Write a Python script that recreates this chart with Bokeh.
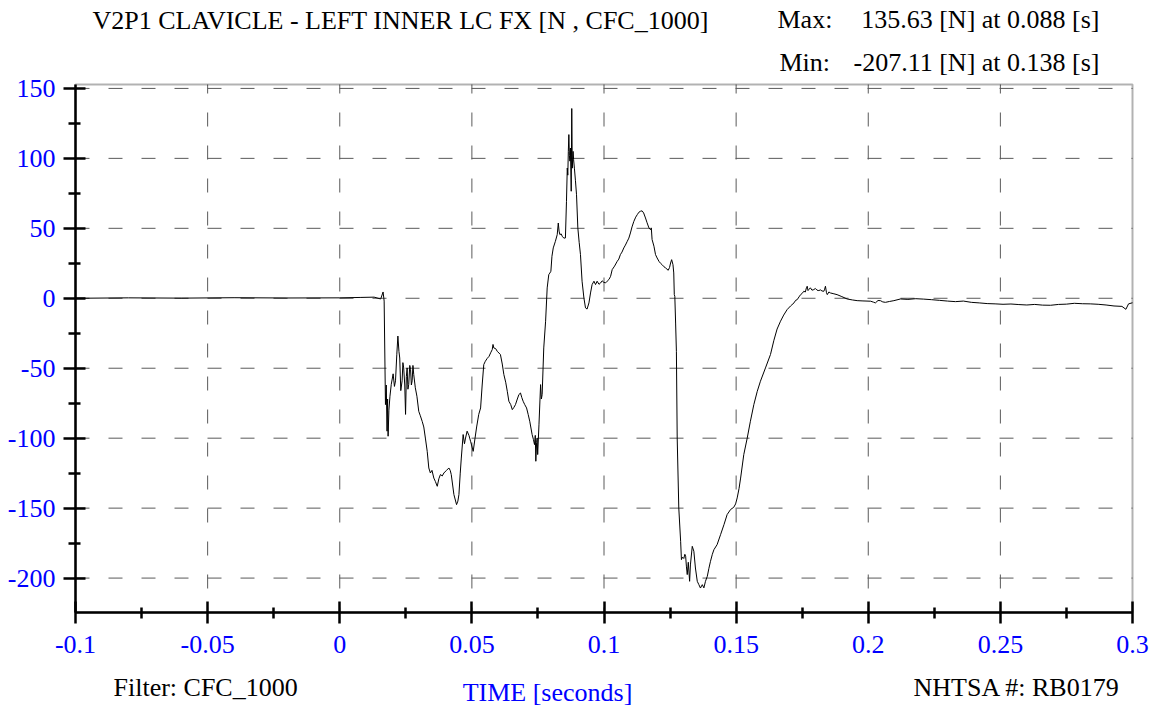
from bokeh.plotting import figure
from bokeh.models import ColumnDataSource, FixedTicker, Label, LinearAxis, BoxAnnotation
from bokeh.embed import file_html
from bokeh.resources import INLINE

# ---------------- data ----------------
time_s = [
    -0.100, -0.080, -0.060, -0.040, -0.020, 0.000, 0.008, 0.013, 0.0155, 0.0164,
    0.0168, 0.0173, 0.0176, 0.0179, 0.0181, 0.0183, 0.0186, 0.0190, 0.0195, 0.0202,
    0.0207, 0.0211, 0.0216, 0.0220, 0.0224, 0.0227, 0.0231, 0.0236, 0.0239, 0.0242,
    0.0246, 0.0249, 0.0252, 0.0255, 0.0258, 0.0261, 0.0265, 0.0268, 0.0271, 0.0274,
    0.0277, 0.0280, 0.0286, 0.0292, 0.0299, 0.0305, 0.0312, 0.0318, 0.0324, 0.0331,
    0.0337, 0.0343, 0.0349, 0.0356, 0.0362, 0.0369, 0.0375, 0.0381, 0.0388, 0.0394,
    0.0404, 0.0413, 0.0418, 0.0422, 0.0432, 0.0442, 0.0447, 0.0451, 0.0456, 0.0460,
    0.0467, 0.0472, 0.0476, 0.0482, 0.0489, 0.0495, 0.0505, 0.0512, 0.0518, 0.0526,
    0.0533, 0.0539, 0.0545, 0.0551, 0.0558, 0.0565, 0.0571, 0.0577, 0.0580, 0.0583,
    0.0590, 0.0596, 0.0608, 0.0615, 0.0621, 0.0628, 0.0634, 0.0640, 0.0647, 0.0653,
    0.0659, 0.0665, 0.0672, 0.0678, 0.0684, 0.0689, 0.0694, 0.0700, 0.0707, 0.0713,
    0.0719, 0.0728, 0.0733, 0.0737, 0.0740, 0.0742, 0.0745, 0.0747, 0.0749, 0.0754,
    0.0760, 0.0763, 0.0766, 0.0772, 0.0779, 0.0785, 0.0791, 0.0795, 0.0799, 0.0803,
    0.0808, 0.0816, 0.0823, 0.0827, 0.0830, 0.0833, 0.0838, 0.0842, 0.0848, 0.0854,
    0.0858, 0.0861, 0.0863, 0.0865, 0.0867, 0.0869, 0.0871, 0.0873, 0.0876, 0.0878,
    0.0880, 0.0883, 0.0885, 0.0888, 0.0892, 0.0896, 0.0901, 0.0906, 0.0911, 0.0917,
    0.0924, 0.0930, 0.0936, 0.0943, 0.0949, 0.0955, 0.0962, 0.0968, 0.0974, 0.0981,
    0.0987, 0.0993, 0.0999, 0.1006, 0.1012, 0.1019, 0.1025, 0.1031, 0.1040, 0.1050,
    0.1056, 0.1062, 0.1068, 0.1075, 0.1081, 0.1088, 0.1094, 0.1100, 0.1106, 0.1113,
    0.1120, 0.1126, 0.1132, 0.1138, 0.1144, 0.1150, 0.1157, 0.1163, 0.1170, 0.1176,
    0.1179, 0.1182, 0.1189, 0.1195, 0.1201, 0.1208, 0.1214, 0.1220, 0.1227, 0.1233,
    0.1243, 0.1248, 0.1252, 0.1256, 0.1261, 0.1264, 0.1266, 0.1268, 0.1271, 0.1274,
    0.1277, 0.1283, 0.1290, 0.1293, 0.1297, 0.1302, 0.1306, 0.1309, 0.1312, 0.1315,
    0.1319, 0.1324, 0.1327, 0.1334, 0.1340, 0.1346, 0.1353, 0.1359, 0.1365, 0.1372,
    0.1378, 0.1384, 0.1391, 0.1397, 0.1403, 0.1410, 0.1416, 0.1428, 0.1441, 0.1454,
    0.1466, 0.1479, 0.1491, 0.1498, 0.1504, 0.1511, 0.1517, 0.1529, 0.1542, 0.1554,
    0.1567, 0.1580, 0.1592, 0.1611, 0.1630, 0.1643, 0.1655, 0.1668, 0.1680, 0.1693,
    0.1706, 0.1719, 0.1725, 0.1731, 0.1738, 0.1744, 0.1750, 0.1756, 0.1762, 0.1766,
    0.1769, 0.1772, 0.1775, 0.1781, 0.1787, 0.1794, 0.1800, 0.1806, 0.1813, 0.1819,
    0.1825, 0.1832, 0.1835, 0.1838, 0.1842, 0.1845, 0.1851, 0.1857, 0.1870, 0.1882,
    0.1900, 0.1920, 0.1940, 0.1958, 0.1980, 0.2009, 0.2020, 0.2027, 0.2037, 0.2046,
    0.2055, 0.2065, 0.2080, 0.2097, 0.2122, 0.2150, 0.2180, 0.2210, 0.2240, 0.2270,
    0.2300, 0.2330, 0.2360, 0.2390, 0.2420, 0.2450, 0.2480, 0.2510, 0.2540, 0.2570,
    0.2600, 0.2630, 0.2660, 0.2690, 0.2720, 0.2750, 0.2780, 0.2810, 0.2840, 0.2870,
    0.2900, 0.2930, 0.2960, 0.2975, 0.2985, 0.3000,
]
force_n = [
    0.0, 0.3, 0.1, 0.4, 0.2, 0.3, 0.6, 0.8, -0.5, 4.5,
    -2.0, -76.0, -62.0, -95.0, -72.0, -98.6, -80.0, -70.0, -61.5, -54.0,
    -63.0, -59.0, -40.0, -27.0, -38.0, -42.7, -66.0, -59.0, -46.0, -49.8,
    -62.0, -83.0, -56.0, -49.8, -65.0, -61.7, -48.0, -51.0, -62.0, -59.0,
    -48.0, -54.5, -64.0, -70.0, -80.8, -84.0, -88.0, -92.0, -99.9, -109.4,
    -121.3, -124.9, -123.0, -128.5, -131.0, -134.4, -129.0, -126.0, -127.0, -124.9,
    -123.0, -121.3, -123.0, -126.0, -140.3, -147.5, -145.0, -140.3, -125.0, -114.2,
    -97.4, -104.0, -99.9, -95.0, -98.0, -102.2, -109.4, -100.0, -92.0, -83.0,
    -78.4, -62.0, -47.4, -45.0, -43.0, -41.5, -39.0, -36.7, -33.0, -35.5,
    -36.0, -37.9, -40.2, -47.0, -54.5, -60.0, -66.5, -73.6, -76.0, -79.6,
    -78.0, -76.0, -72.0, -68.8, -67.7, -71.0, -73.6, -76.0, -78.4, -83.0,
    -87.9, -97.4, -101.0, -104.6, -98.0, -116.5, -103.0, -99.9, -111.7, -90.0,
    -61.7, -72.0, -68.8, -35.5, -16.4, 7.4, 16.9, 18.0, 19.3, 30.0,
    36.0, 40.7, 45.5, 53.8, 48.0, 45.5, 46.0, 44.3, 43.0, 43.1,
    69.3, 93.1, 88.0, 105.0, 117.0, 102.0, 98.0, 107.4, 76.5, 135.63,
    93.0, 105.0, 99.0, 93.0, 84.0, 74.0, 50.3, 40.0, 31.2, 12.2,
    0.2, -6.9, -7.7, -3.3, 3.8, 9.8, 12.2, 9.8, 12.2, 10.0,
    10.9, 12.5, 11.4, 11.0, 12.2, 13.5, 15.7, 20.5, 23.0, 26.4,
    28.0, 31.2, 33.0, 36.0, 38.0, 40.7, 43.0, 46.7, 51.0, 55.0,
    58.0, 59.8, 61.5, 62.2, 62.5, 61.0, 57.4, 54.0, 50.3, 49.0,
    50.3, 42.0, 37.2, 31.2, 28.8, 26.4, 25.0, 24.0, 22.5, 21.7,
    20.0, 22.0, 25.2, 27.6, 24.0, 18.1, 2.6, 1.4, -17.7, -37.9,
    -99.9, -149.9, -173.7, -186.8, -185.0, -186.0, -183.0, -184.4, -192.0, -197.5,
    -188.7, -202.3, -190.6, -177.3, -180.8, -192.8, -202.3, -204.7, -207.11, -204.7,
    -207.0, -202.3, -198.7, -193.0, -188.0, -183.0, -179.7, -176.1, -169.0, -161.8,
    -154.6, -151.0, -149.4, -147.0, -142.7, -136.0, -128.5, -111.7, -99.9, -87.9,
    -76.0, -66.5, -59.3, -49.8, -40.2, -30.0, -22.0, -16.4, -12.0, -8.1,
    -5.5, -3.3, -1.5, -1.0, 1.0, 2.6, 3.5, 5.0, 4.5, 7.5,
    8.6, 5.5, 6.2, 7.5, 5.8, 6.2, 7.0, 5.8, 5.5, 6.0,
    5.2, 5.0, 6.5, 8.6, 4.0, 2.6, 4.5, 3.8, 3.2, 2.6,
    1.2, -0.5, -1.2, -1.7, -1.9, -2.1, -2.8, -3.3, -1.6, -1.7,
    -2.6, -2.9, -2.3, -1.7, -0.5, -0.8, -0.3, -0.6, -1.0, -1.5,
    -2.0, -2.4, -2.0, -2.9, -3.3, -3.8, -4.0, -4.3, -4.1, -4.5,
    -4.8, -4.4, -4.9, -5.0, -4.4, -4.2, -3.6, -3.9, -4.0, -4.3,
    -4.8, -5.5, -5.8, -7.9, -4.0, -3.2,
]

x_major_ticks = [-0.1, -0.05, 0.0, 0.05, 0.1, 0.15, 0.2, 0.25, 0.3]
x_tick_labels = ["-0.1", "-0.05", "0", "0.05", "0.1", "0.15", "0.2", "0.25", "0.3"]
x_minor_ticks = [-0.075, -0.025, 0.025, 0.075, 0.125, 0.175, 0.225, 0.275]
y_major_ticks = [-200, -150, -100, -50, 0, 50, 100, 150]
y_tick_labels = ["-200", "-150", "-100", "-50", "0", "50", "100", "150"]
y_minor_ticks = [-175, -125, -75, -25, 25, 75, 125]

title_text = "V2P1 CLAVICLE - LEFT INNER LC FX [N , CFC_1000]"
max_label, max_text = "Max:", "135.63 [N] at 0.088 [s]"
min_label, min_text = "Min:", "-207.11 [N] at 0.138 [s]"
filter_text = "Filter: CFC_1000"
xlabel_text = "TIME [seconds]"
nhtsa_text = "NHTSA #: RB0179"

# plot limits (data) of the boxed chart area
X_LO, X_HI = -0.1, 0.3
Y_LO, Y_HI = -224.6, 152.8

# ---------------- figure ----------------
FONT = "Liberation Serif"
FS = "26px"
BLUE = "#0000FF"
W, H = 1156, 708
BOX_L, BOX_R, BOX_T, BOX_B = 75, 1132, 84, 612  # chart box in canvas pixels
px_per_x = (BOX_R - BOX_L) / (X_HI - X_LO)
px_per_y = (BOX_B - BOX_T) / (Y_HI - Y_LO)
xr = (X_LO - BOX_L / px_per_x, X_HI + (W - BOX_R) / px_per_x)
yr = (Y_LO - (H - BOX_B) / px_per_y, Y_HI + BOX_T / px_per_y)

def ypix(py):  # canvas pixel row -> data y
    return Y_HI - (py - BOX_T) / px_per_y

def xpix(px):  # canvas pixel column -> data x
    return X_LO + (px - BOX_L) / px_per_x

p = figure(
    width=W, height=H, x_range=xr, y_range=yr,
    x_axis_location=None, y_axis_location=None,
    output_backend="svg", toolbar_location=None,
    min_border_left=0, min_border_right=0, min_border_top=0, min_border_bottom=0,
)
p.grid.visible = False
p.background_fill_color = "white"
p.border_fill_color = "white"
p.outline_line_color = None

# dashed grid lines at major ticks
GRID = "#5a5a5a"
gx = [t for t in x_major_ticks if X_LO < t < X_HI]
p.segment(x0=gx, y0=[Y_LO] * len(gx), x1=gx, y1=[Y_HI] * len(gx),
          line_color=GRID, line_width=1, line_dash="14 19", line_dash_offset=9)
p.segment(x0=[X_LO] * len(y_major_ticks), y0=y_major_ticks,
          x1=[X_HI] * len(y_major_ticks), y1=y_major_ticks,
          line_color=GRID, line_width=1, line_dash="14 19", line_dash_offset=0)

# the signal
src = ColumnDataSource(data=dict(t=time_s, f=force_n))
p.line("t", "f", source=src, line_color="black", line_width=1)

# box border
p.add_layout(BoxAnnotation(left=X_LO, right=X_HI, bottom=Y_LO, top=Y_HI,
                           fill_alpha=0, line_color="black", line_width=2))

# axes
xt = FixedTicker(ticks=x_major_ticks, minor_ticks=x_minor_ticks)
yt = FixedTicker(ticks=y_major_ticks, minor_ticks=y_minor_ticks)
xaxis = LinearAxis(ticker=xt, fixed_location=Y_LO, bounds=(X_LO, X_HI),
                   major_label_overrides={v: s for v, s in zip(x_major_ticks, x_tick_labels)})
yaxis = LinearAxis(ticker=yt, fixed_location=X_LO, bounds=(Y_LO, Y_HI),
                   major_label_overrides={v: s for v, s in zip(y_major_ticks, y_tick_labels)})
for ax in (xaxis, yaxis):
    ax.axis_line_color = "black"
    ax.axis_line_width = 2.5
    ax.major_tick_line_color = "black"
    ax.major_tick_line_width = 2.5
    ax.minor_tick_line_color = "black"
    ax.minor_tick_line_width = 2.5
    ax.major_label_text_font = FONT
    ax.major_label_text_font_size = FS
    ax.major_label_text_color = BLUE
xaxis.major_tick_in = 11
xaxis.major_tick_out = 11
xaxis.minor_tick_in = 5
xaxis.minor_tick_out = 6
xaxis.major_label_standoff = 12
yaxis.major_tick_in = 10
yaxis.major_tick_out = 12
yaxis.minor_tick_in = 5
yaxis.minor_tick_out = 7
yaxis.major_label_standoff = 8
p.add_layout(xaxis, "below")
p.add_layout(yaxis, "left")

# texts (y given as the visual middle of the text line)
def add_label(x, y, text, color="black", align="left"):
    p.add_layout(Label(x=x, y=y, text=text, text_font=FONT, text_font_size=FS,
                       text_color=color, text_align=align, text_baseline="middle"))

add_label(xpix(92), ypix(20), title_text)
add_label(xpix(777), ypix(19), max_label)
add_label(xpix(1099), ypix(19), max_text, align="right")
add_label(xpix(779), ypix(62), min_label)
add_label(xpix(1099), ypix(62), min_text, align="right")
add_label(xpix(113), ypix(687), filter_text)
add_label(xpix(547), ypix(692), xlabel_text, color=BLUE, align="center")
add_label(xpix(913), ypix(687), nhtsa_text)

open("out.html", "w").write(file_html(p, INLINE))
